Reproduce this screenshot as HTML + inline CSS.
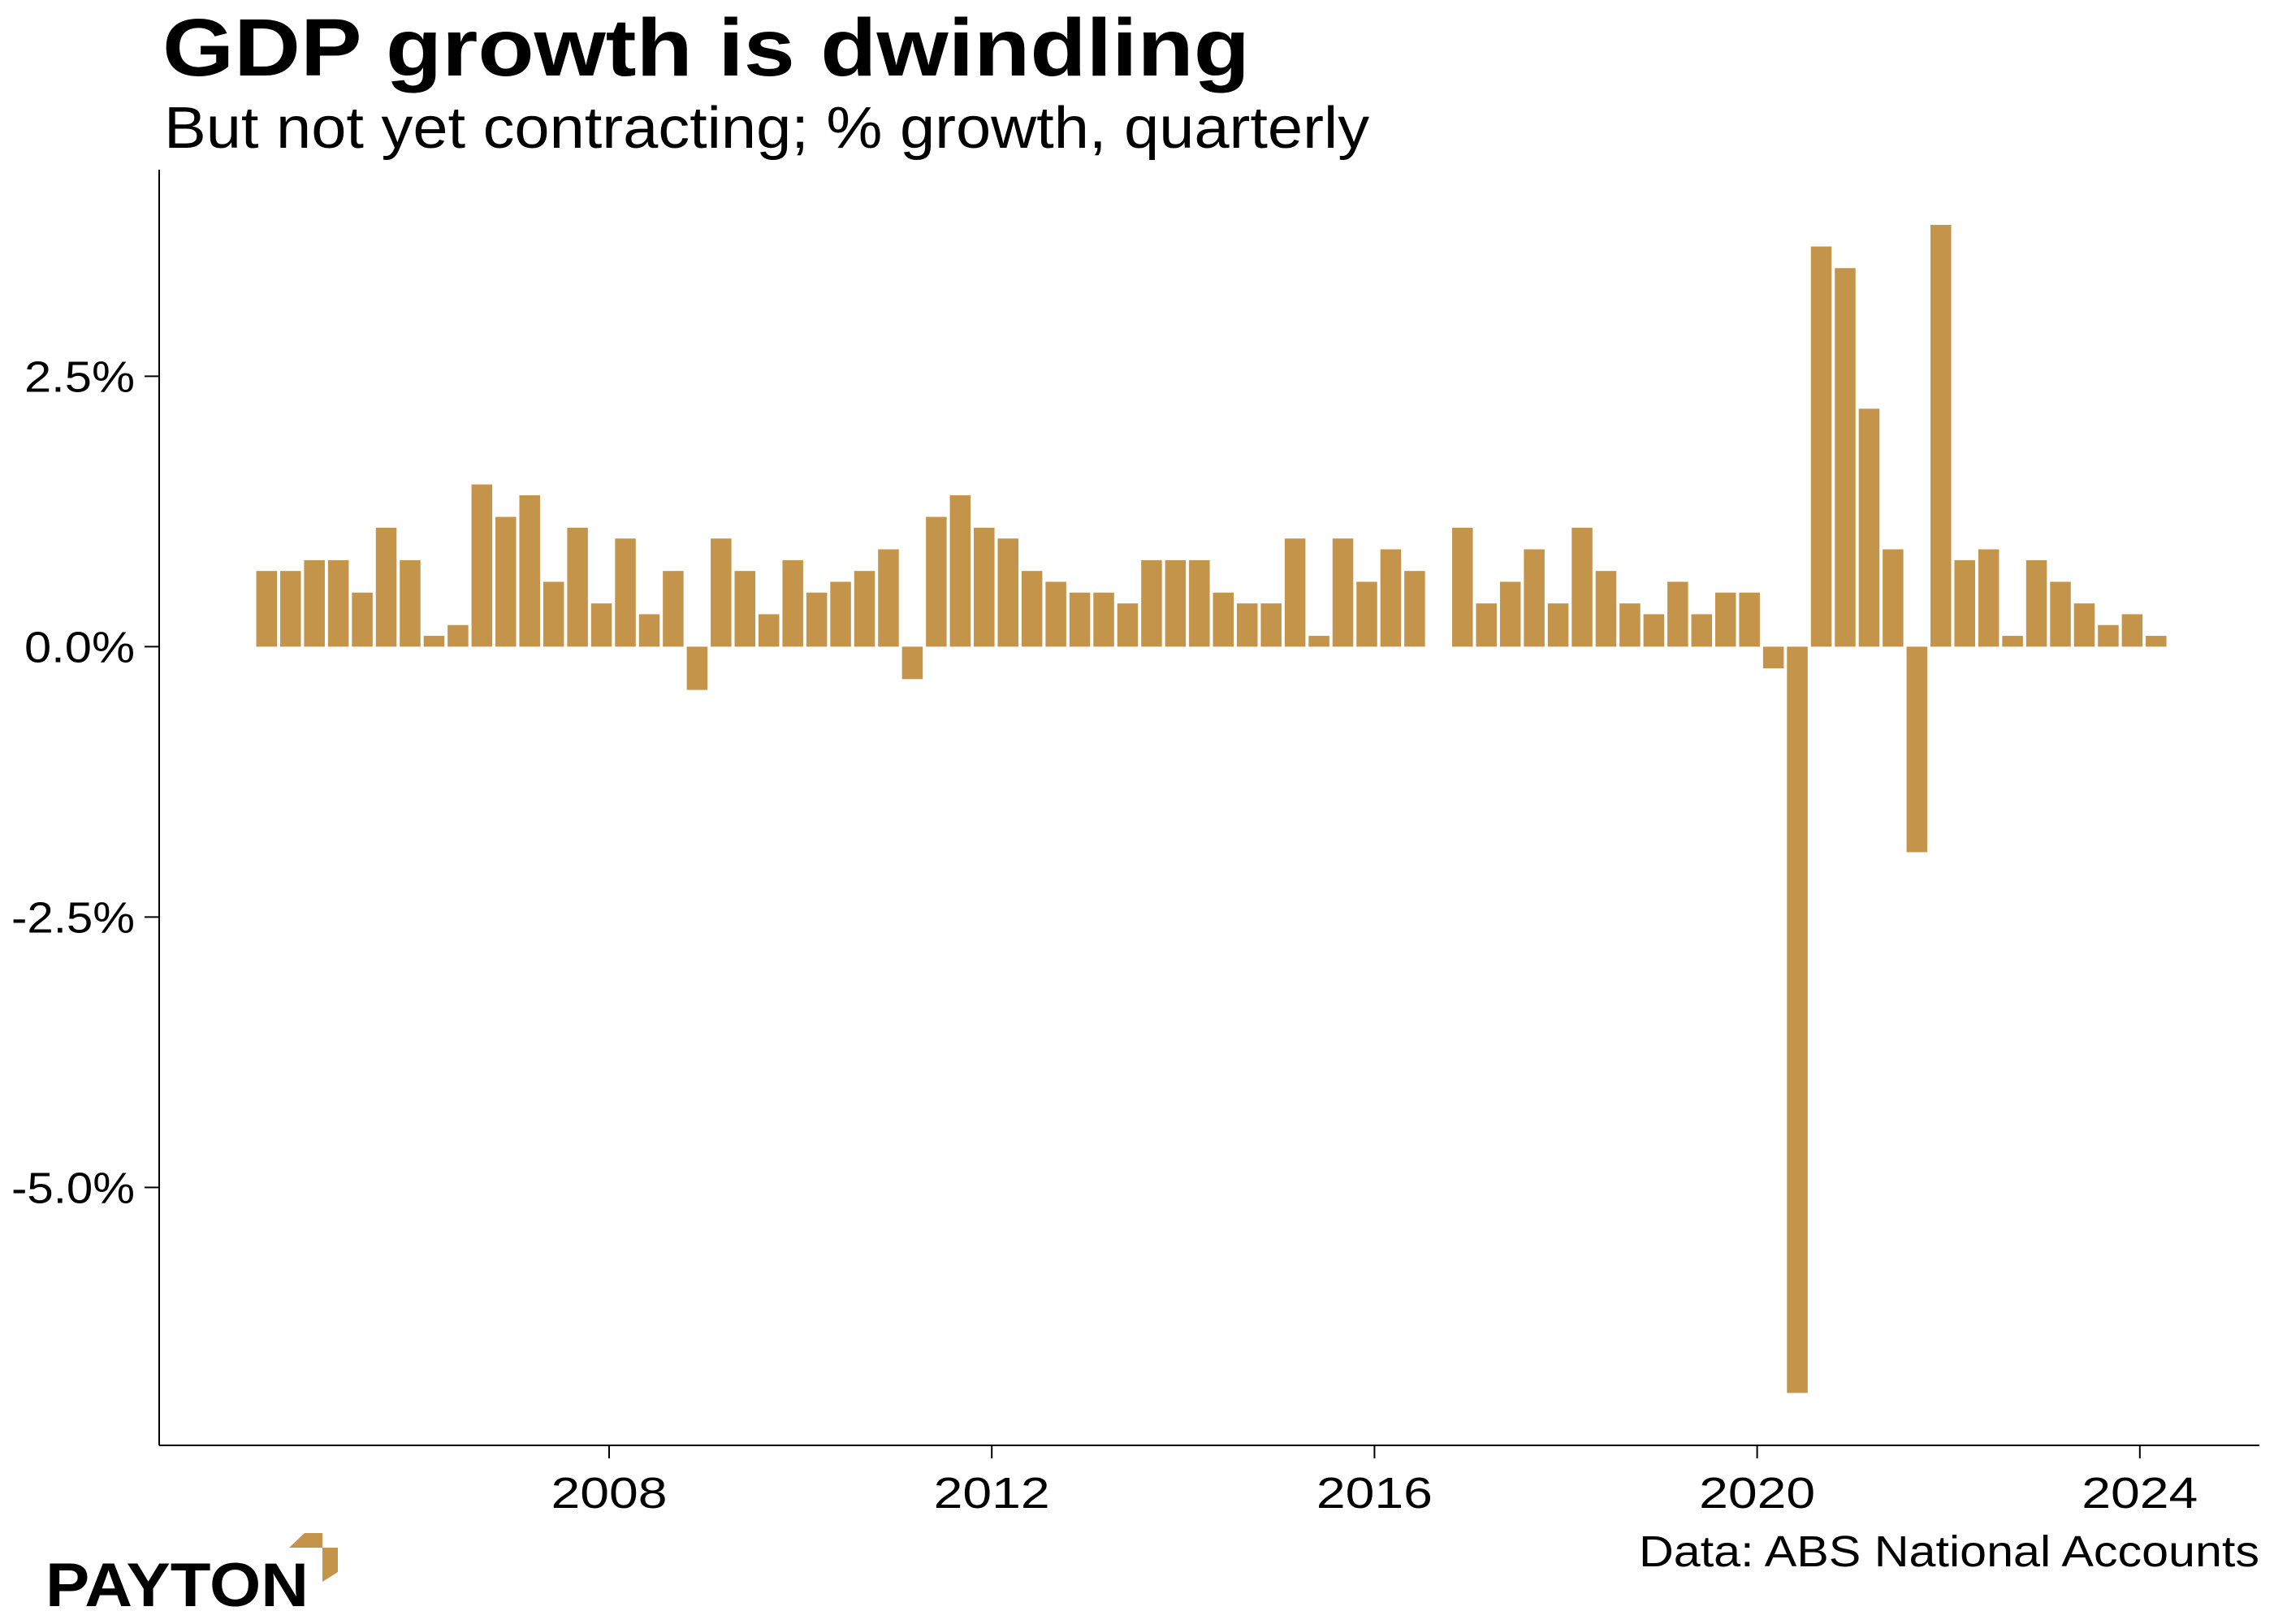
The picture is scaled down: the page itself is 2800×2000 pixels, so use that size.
<!DOCTYPE html>
<html><head><meta charset="utf-8"><style>
html,body{margin:0;padding:0;background:#fff;}
svg{display:block;font-family:"Liberation Sans",sans-serif;}
</style></head><body>
<svg id="chart" width="2800" height="2000" viewBox="0 0 2800 2000">
<text x="200" y="93" font-size="100" font-weight="bold" textLength="1339" lengthAdjust="spacingAndGlyphs" fill="#000">GDP growth is dwindling</text>
<text x="202" y="182" font-size="72" textLength="1484" lengthAdjust="spacingAndGlyphs" fill="#000">But not yet contracting; % growth, quarterly</text>
<g id="bars"></g>
<g id="yaxis"></g>
<g id="xaxis"></g>
<text x="2782" y="1929" font-size="54" text-anchor="end" textLength="764" lengthAdjust="spacingAndGlyphs" fill="#000">Data: ABS National Accounts</text>
<g>
<text x="56" y="1978" font-size="76" font-weight="bold" textLength="324" lengthAdjust="spacingAndGlyphs" fill="#000">PAYTON</text>
<polygon points="356,1906 375,1888 397,1888 397,1906" fill="#c4944a"/>
<polygon points="397,1906 416,1906 416,1936 397,1948" fill="#c4944a"/>
</g>
</svg>
<script>
const values = [0.7,0.7,0.8,0.8,0.5,1.1,0.8,0.1,0.2,1.5,1.2,1.4,0.6,1.1,0.4,1.0,0.3,0.7,-0.4,1.0,0.7,0.3,0.8,0.5,0.6,0.7,0.9,-0.3,1.2,1.4,1.1,1.0,0.7,0.6,0.5,0.5,0.4,0.8,0.8,0.8,0.5,0.4,0.4,1.0,0.1,1.0,0.6,0.9,0.7,0.0,1.1,0.4,0.6,0.9,0.4,1.1,0.7,0.4,0.3,0.6,0.3,0.5,0.5,-0.2,-6.9,3.7,3.5,2.2,0.9,-1.9,3.9,0.8,0.9,0.1,0.8,0.6,0.4,0.2,0.3,0.1];
const startYear = 2004.42;
const yTicks = [2.5,0,-2.5,-5];
const yTickLabels = ["2.5%","0.0%","-2.5%","-5.0%"];
const xTicks = [2008,2012,2016,2020,2024];
const xTickLabels = ["2008","2012","2016","2020","2024"];

const NS = "http://www.w3.org/2000/svg";
const L = 196, R = 2782, T = 209, B = 1780;
function xScale(yr){ return 750 + (yr - 2008) * 117.8; }
function yScale(v){ return 796.4 - v * 133.2; }
const barW = 25.5;

const bars = document.getElementById('bars');
values.forEach((v,i)=>{
  const yr = startYear + i*0.25;
  const cx = xScale(yr);
  const r = document.createElementNS(NS,'rect');
  
  
  const y0 = yScale(0), y1 = yScale(v);
  r.setAttribute('x', cx - barW/2);
  r.setAttribute('y', Math.min(y0,y1));
  r.setAttribute('width', barW);
  r.setAttribute('height', Math.abs(y1-y0));
  r.setAttribute('fill', '#c4944a');
  bars.appendChild(r);
});

const ya = document.getElementById('yaxis');
const yl = document.createElementNS(NS,'line');


yl.setAttribute('x1',L);yl.setAttribute('x2',L);yl.setAttribute('y1',T);yl.setAttribute('y2',B);
yl.setAttribute('stroke','#000');yl.setAttribute('stroke-width','2');
ya.appendChild(yl);
yTicks.forEach((t,i)=>{
  const y = yScale(t);
  const tk = document.createElementNS(NS,'line');
  
  
  tk.setAttribute('x1',L-18);tk.setAttribute('x2',L);tk.setAttribute('y1',y);tk.setAttribute('y2',y);
  tk.setAttribute('stroke','#000');tk.setAttribute('stroke-width','2');
  ya.appendChild(tk);
  const tx = document.createElementNS(NS,'text');
  
  
  tx.setAttribute('x',166);tx.setAttribute('y',y+19);
  tx.setAttribute('font-size','54');tx.setAttribute('text-anchor','end');
  tx.setAttribute('textLength', t < 0 ? 152 : 136);
  tx.setAttribute('lengthAdjust','spacingAndGlyphs');
  tx.textContent = yTickLabels[i];
  ya.appendChild(tx);
});

const xa = document.getElementById('xaxis');
const xl = document.createElementNS(NS,'line');


xl.setAttribute('x1',L);xl.setAttribute('x2',R);xl.setAttribute('y1',B);xl.setAttribute('y2',B);
xl.setAttribute('stroke','#000');xl.setAttribute('stroke-width','2');
xa.appendChild(xl);
xTicks.forEach((t,i)=>{
  const x = xScale(t);
  const tk = document.createElementNS(NS,'line');
  
  
  tk.setAttribute('x1',x);tk.setAttribute('x2',x);tk.setAttribute('y1',B);tk.setAttribute('y2',B+16);
  tk.setAttribute('stroke','#000');tk.setAttribute('stroke-width','2');
  xa.appendChild(tk);
  const tx = document.createElementNS(NS,'text');
  
  
  tx.setAttribute('x',x);tx.setAttribute('y',1857);
  tx.setAttribute('font-size','54');tx.setAttribute('text-anchor','middle');
  tx.setAttribute('textLength', 143);
  tx.setAttribute('lengthAdjust','spacingAndGlyphs');
  tx.textContent = xTickLabels[i];
  xa.appendChild(tx);
});
</script>
</body></html>
